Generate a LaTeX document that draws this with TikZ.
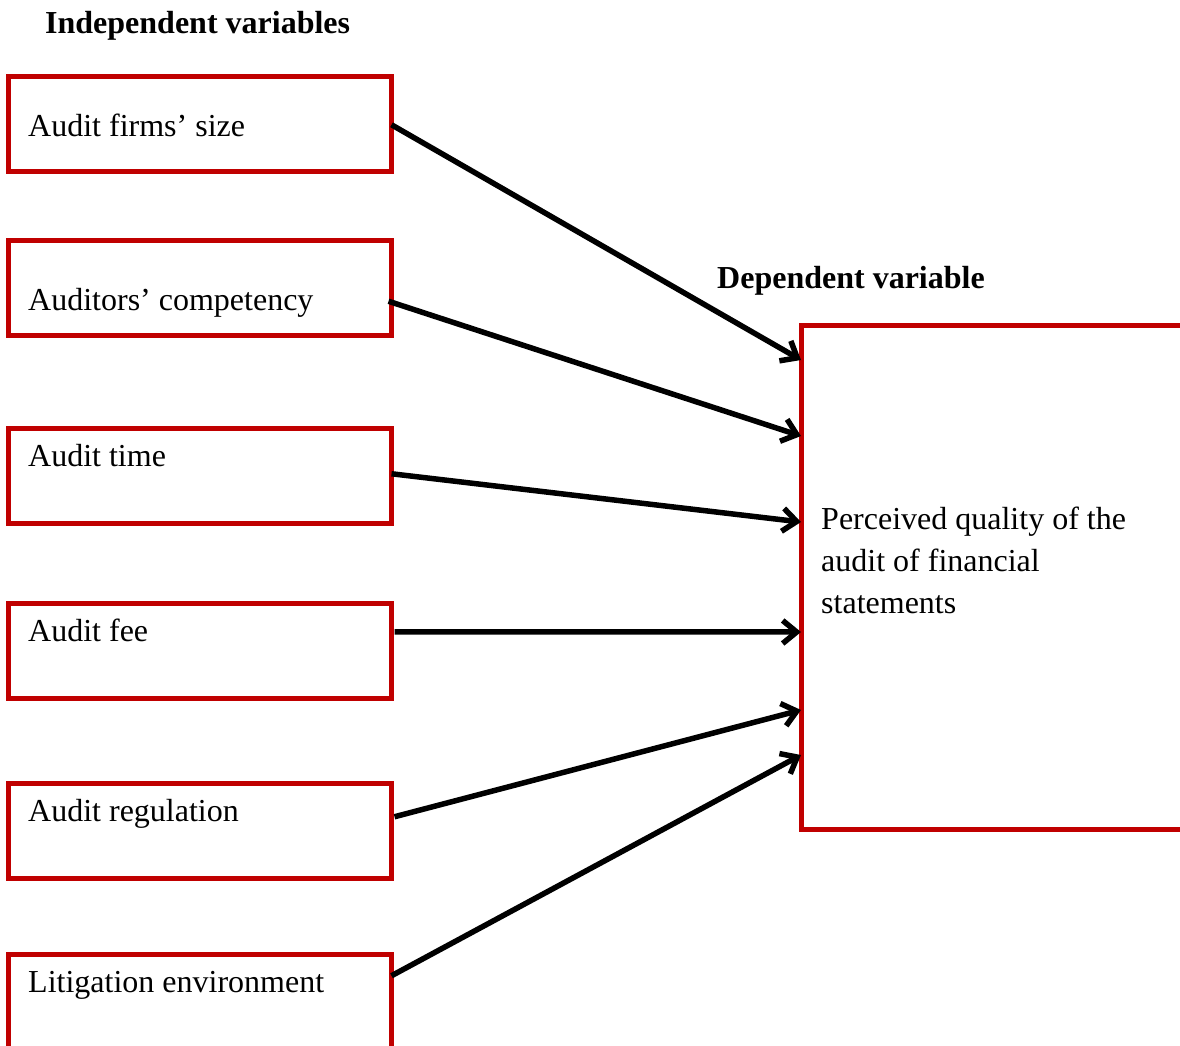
\documentclass[tikz,border=0pt]{standalone}
\usepackage{fontspec}
\setmainfont{Liberation Serif}
\usetikzlibrary{arrows.meta,calc}
\definecolor{boxred}{HTML}{C00000}
\begin{document}
\begin{tikzpicture}[x=1pt,y=-1pt,
  vbox/.style={draw=boxred,line width=5pt,rectangle,minimum width=383.5pt,minimum height=94.5pt,anchor=north west,inner sep=0pt,outer sep=0pt},
  lbl/.style={anchor=base west,inner sep=0pt,font=\fontsize{32}{42}\selectfont},
  ttl/.style={anchor=base west,inner sep=0pt,font=\fontsize{32}{42}\selectfont\bfseries},
  conn/.style={line width=5.5pt,-{Straight Barb[length=14pt,width=23pt,line width=5.5pt]}}]
\useasboundingbox (0,0) rectangle (1180,1046);
\clip (0,0) rectangle (1180,1046);
\node[ttl] (t1) at (45,34) {Independent variables};
\node[ttl] (t2) at (717,288) {Dependent variable};
\node[vbox] (b1) at (8,76.5) {};
\node[vbox] (b2) at (8,240.5) {};
\node[vbox] (b3) at (8,428.5) {};
\node[vbox] (b4) at (8,603.5) {};
\node[vbox] (b5) at (8,783.5) {};
\node[vbox] (b6) at (8,954.5) {};
\node[lbl] (l1) at (28,136) {Audit firms’ size};
\node[lbl] (l2) at (28,310) {Auditors’ competency};
\node[lbl] (l3) at (28,466) {Audit time};
\node[lbl] (l4) at (28,641) {Audit fee};
\node[lbl] (l5) at (28,821) {Audit regulation};
\node[lbl] (l6) at (28,992) {Litigation environment};
\node[draw=boxred,line width=5pt,rectangle,minimum width=400pt,minimum height=503.5pt,anchor=north west,inner sep=0pt,outer sep=0pt] (R) at (801.5,325.5) {};
\node[lbl] (r1) at (821,529) {Perceived quality of the};
\node[lbl] (r2) at (821,571) {audit of financial};
\node[lbl] (r3) at (821,613) {statements};
\coordinate (e1) at (801,360);
\coordinate (e2) at (801,436);
\coordinate (e3) at (801,522);
\coordinate (e4) at (801,632);
\coordinate (e5) at (801,710);
\coordinate (e6) at (801,755);
\draw[conn] ($(b1.east)+(0,1)$) -- (e1);
\draw[conn] ($(b2.east)+(-3,13.5)$) -- (e2);
\draw[conn] ($(b3.east)+(0,-2)$) -- (e3);
\draw[conn] ($(b4.east)+(3,-19)$) -- (e4);
\draw[conn] ($(b5.east)+(3,-14)$) -- (e5);
\draw[conn] ($(b6.east)+(0,-26)$) -- (e6);
\end{tikzpicture}
\end{document}
